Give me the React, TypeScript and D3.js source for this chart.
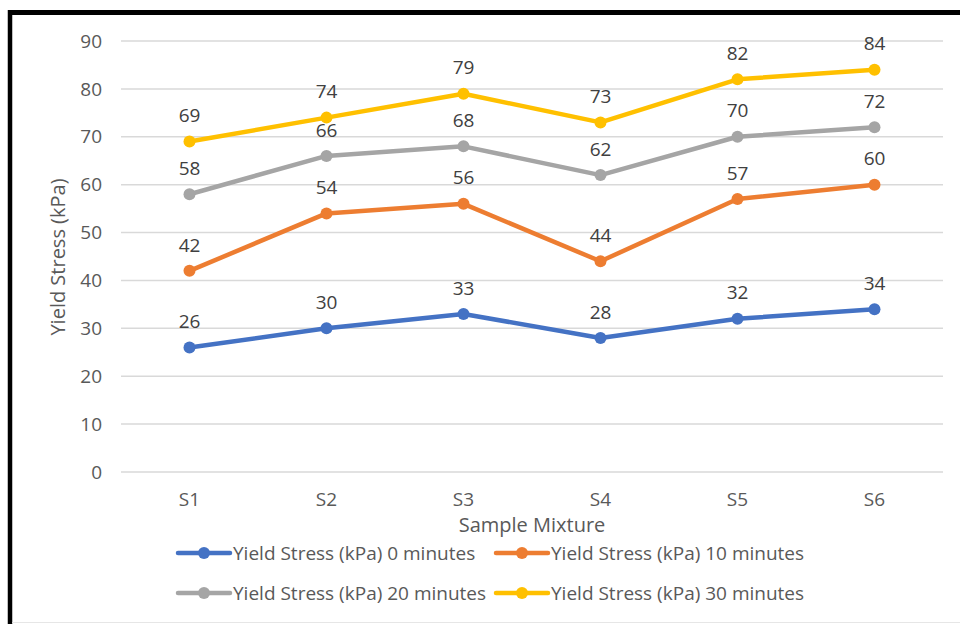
import React from "react";
import * as d3 from "d3";

const categories = ["S1", "S2", "S3", "S4", "S5", "S6"];
const seriesNames = [
  "Yield Stress (kPa) 0 minutes",
  "Yield Stress (kPa) 10 minutes",
  "Yield Stress (kPa) 20 minutes",
  "Yield Stress (kPa) 30 minutes",
];
const values0 = [26, 30, 33, 28, 32, 34];
const values10 = [42, 54, 56, 44, 57, 60];
const values20 = [58, 66, 68, 62, 70, 72];
const values30 = [69, 74, 79, 73, 82, 84];
const yTicks = [0, 10, 20, 30, 40, 50, 60, 70, 80, 90];
const colors = ["#4472C4", "#ED7D31", "#A5A5A5", "#FFC000"];

const W = 960;
const H = 624;
const FONT = "'Open Sans', sans-serif";

export default function App() {
  const plot = { left: 121, right: 943, top: 41, bottom: 472 };
  const x = d3
    .scaleBand<string>()
    .domain(categories)
    .range([plot.left, plot.right]);
  const y = d3.scaleLinear().domain([0, 90]).range([plot.bottom, plot.top]);
  const cx = (c: string) => (x(c) ?? 0) + x.bandwidth() / 2;

  const series = [values0, values10, values20, values30].map((vals, i) => ({
    name: seriesNames[i],
    color: colors[i],
    points: vals.map((v, j) => ({ c: categories[j], v })),
  }));

  const line = d3
    .line<{ c: string; v: number }>()
    .x((d) => cx(d.c))
    .y((d) => y(d.v));

  const legend = [
    { s: series[0], x: 178, y: 553 },
    { s: series[1], x: 496, y: 553 },
    { s: series[2], x: 178, y: 593 },
    { s: series[3], x: 496, y: 593 },
  ];

  return (
    <svg
      width={W}
      height={H}
      style={{ position: "absolute", left: 0, top: 0, background: "#fff" }}
      fontFamily={FONT}
    >
      <rect x={0} y={0} width={W} height={H} fill="#fff" />
      {/* frame */}
      <line x1={10} y1={12.5} x2={W} y2={12.5} stroke="#000" strokeWidth={5} />
      <line x1={10} y1={10} x2={10} y2={H} stroke="#000" strokeWidth={4.5} />
      <line x1={12} y1={622.5} x2={W} y2={622.5} stroke="#e6e6e6" strokeWidth={1} />

      {/* gridlines and y ticks */}
      {yTicks.map((t) => (
        <g key={t}>
          <line
            x1={plot.left}
            x2={plot.right}
            y1={y(t)}
            y2={y(t)}
            stroke="#d9d9d9"
            strokeWidth={1.5}
          />
          <text
            x={102}
            y={y(t)}
            dy="0.35em"
            textAnchor="end"
            fontSize={19}
            fill="#595959"
          >
            {t}
          </text>
        </g>
      ))}

      {/* x tick labels */}
      {categories.map((c) => (
        <text
          key={c}
          x={cx(c)}
          y={499}
          dy="0.35em"
          textAnchor="middle"
          fontSize={19}
          fill="#595959"
        >
          {c}
        </text>
      ))}

      {/* axis titles */}
      <text
        x={(plot.left + plot.right) / 2}
        y={525}
        dy="0.35em"
        textAnchor="middle"
        fontSize={20}
        fill="#595959"
      >
        Sample Mixture
      </text>
      <text
        transform={`translate(58, 257) rotate(-90)`}
        dy="0.35em"
        textAnchor="middle"
        fontSize={20}
        fill="#595959"
      >
        Yield Stress (kPa)
      </text>

      {/* series */}
      {series.map((s) => (
        <g key={s.name}>
          <path
            d={line(s.points) ?? ""}
            fill="none"
            stroke={s.color}
            strokeWidth={4.5}
            strokeLinejoin="round"
            strokeLinecap="round"
          />
          {s.points.map((p) => (
            <circle key={p.c} cx={cx(p.c)} cy={y(p.v)} r={6} fill={s.color} />
          ))}
          {s.points.map((p) => (
            <text
              key={"l" + p.c}
              x={cx(p.c)}
              y={y(p.v) - 26}
              dy="0.35em"
              textAnchor="middle"
              fontSize={19}
              fill="#404040"
            >
              {p.v}
            </text>
          ))}
        </g>
      ))}

      {/* legend */}
      {legend.map(({ s, x: lx, y: ly }) => (
        <g key={s.name}>
          <line
            x1={lx}
            x2={lx + 52}
            y1={ly}
            y2={ly}
            stroke={s.color}
            strokeWidth={4.5}
            strokeLinecap="round"
          />
          <circle cx={lx + 26} cy={ly} r={6} fill={s.color} />
          <text
            x={lx + 55}
            y={ly}
            dy="0.35em"
            fontSize={19}
            fill="#595959"
          >
            {s.name}
          </text>
        </g>
      ))}
    </svg>
  );
}
